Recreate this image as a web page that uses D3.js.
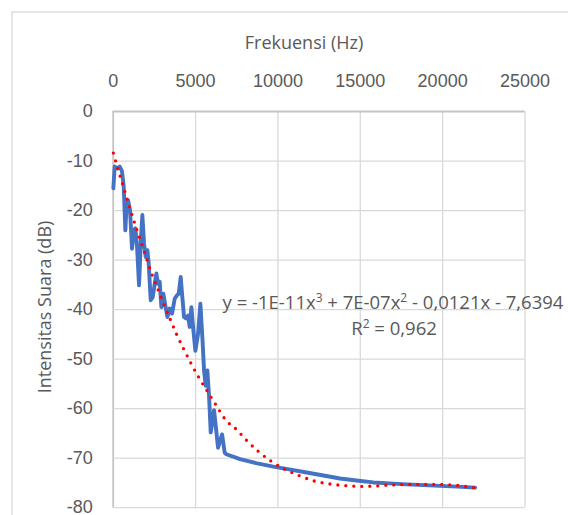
<!DOCTYPE html>
<html>
<head>
<meta charset="utf-8">
<script src="https://cdn.jsdelivr.net/npm/d3@7"></script>
<style>
  body { margin: 0; background: #fff; }
  svg { display: block; font-family: "Open Sans", "Liberation Sans", sans-serif; }
</style>
</head>
<body>
<div id="chart"></div>
<script>
// measured series (Hz, dB)
const freqHz = [40, 121, 283, 425, 567, 668, 769, 850, 931, 1052, 1174, 1275, 1376, 1478, 1599,
  1720, 1801, 1903, 2004, 2105, 2186, 2307, 2429, 2550, 2651, 2753, 2854, 2955, 3076, 3198,
  3319, 3461, 3603, 3765, 3906, 4007, 4129, 4210, 4331, 4453, 4574, 4675, 4777, 4898, 5020,
  5181, 5323, 5444, 5546, 5647, 5748, 5849, 5951, 6153, 6396, 6639, 6800, 6902,
  7730, 8700, 9750, 10800, 11780, 12800, 13800, 14800, 15820, 16800, 17850, 18900, 19870, 20900, 22000];
const intensityDb = [-15.6, -11.2, -11.6, -11.2, -12.2, -15.3, -24.1, -18.3, -18.0, -20.0, -27.8, -24.1, -23.7, -27.4, -35.2,
  -25.4, -21.0, -26.8, -29.5, -28.1, -30.8, -38.2, -37.6, -34.9, -32.8, -34.9, -34.5, -39.6, -36.9, -39.3,
  -41.6, -39.9, -40.9, -37.9, -37.2, -36.9, -33.5, -36.9, -41.6, -41.9, -41.3, -43.6, -39.6, -44.3, -48.4,
  -45.0, -38.9, -45.7, -52.4, -55.5, -52.4, -57.5, -64.9, -60.4, -68.0, -65.3, -69.0, -69.3,
  -70.3, -71.1, -71.8, -72.4, -73.0, -73.6, -74.2, -74.6, -75.0, -75.2, -75.4, -75.55, -75.7, -75.85, -76.05];

// polynomial trendline
const trendHz = [40, 324, 607, 890, 1174, 1478, 1801, 2105, 2429, 2793, 3157, 3522, 3906, 4331, 4777,
  5262, 5748, 6295, 6861, 7485, 8153, 8863, 9610, 10417, 11310, 12220, 13150, 14100, 15110, 16060,
  17030, 18030, 18960, 19950, 20880, 22000];
const trendDb = [-8.5, -11.8, -14.8, -18.0, -21.0, -24.1, -27.2, -30.3, -33.4, -36.4, -39.5, -42.3, -45.3, -48.2, -51.1,
  -54.0, -56.6, -59.5, -62.4, -64.2, -66.6, -68.8, -70.7, -72.3, -73.6, -74.7, -75.3, -75.65, -75.8, -75.7,
  -75.5, -75.4, -75.4, -75.4, -75.6, -76.1];

const xTicks = [0, 5000, 10000, 15000, 20000, 25000];
const yTicks = [0, -10, -20, -30, -40, -50, -60, -70, -80];

const xTitle = 'Frekuensi (Hz)';
const yTitle = 'Intensitas Suara (dB)';

const width = 568, height = 515;
const plot = { left: 112.7, right: 524.5, top: 111, bottom: 507.2 };
const textColor = '#595959';
const gridColor = '#d9d9d9';

const x = d3.scaleLinear().domain([0, 25000]).range([plot.left, plot.right]);
const y = d3.scaleLinear().domain([0, -80]).range([plot.top, plot.bottom]);

const svg = d3.select('#chart').append('svg')
  .attr('width', width)
  .attr('height', height);

// chart area border (runs off the right and bottom edge)
svg.append('rect')
  .attr('x', 12).attr('y', 12)
  .attr('width', 600).attr('height', 560)
  .attr('fill', '#fff')
  .attr('stroke', gridColor)
  .attr('stroke-width', 1.3);

// axes double as gridlines
const xAxis = svg.append('g')
  .attr('transform', `translate(0,${plot.top})`)
  .call(d3.axisTop(x).tickValues(xTicks).tickSize(-(plot.bottom - plot.top)).tickPadding(24).tickFormat(d3.format('d')));

const yAxis = svg.append('g')
  .attr('transform', `translate(${plot.left},0)`)
  .call(d3.axisLeft(y).tickValues(yTicks).tickSize(-(plot.right - plot.left)).tickPadding(20).tickFormat(d => d === 0 ? '0' : '-' + Math.abs(d)));

[xAxis, yAxis].forEach(g => {
  g.select('.domain').remove();
  g.selectAll('.tick line').attr('stroke', gridColor).attr('stroke-width', 1.3);
  g.selectAll('.tick text').attr('fill', textColor).style('font-size', '18px');
});

// axis lines a touch darker
xAxis.selectAll('.tick').filter(d => d === 0).select('line').attr('stroke', '#c4c4c4').attr('stroke-width', 1.8);
yAxis.selectAll('.tick').filter(d => d === 0).select('line').attr('stroke', '#c4c4c4').attr('stroke-width', 1.8);

// titles
svg.append('text')
  .attr('x', 304).attr('y', 49)
  .attr('text-anchor', 'middle')
  .attr('fill', textColor)
  .style('font-size', '18px')
  .text(xTitle);

svg.append('text')
  .attr('transform', 'translate(51,307) rotate(-90)')
  .attr('text-anchor', 'middle')
  .attr('fill', textColor)
  .style('font-size', '18px')
  .text(yTitle);

// measured line
const series = freqHz.map((f, i) => ({ f: f, db: intensityDb[i] }));
svg.append('path')
  .datum(series)
  .attr('fill', 'none')
  .attr('stroke', '#4472C4')
  .attr('stroke-width', 3.9)
  .attr('stroke-linejoin', 'round')
  .attr('stroke-linecap', 'round')
  .attr('d', d3.line().x(d => x(d.f)).y(d => y(d.db)));

// dotted trendline
const trend = trendHz.map((f, i) => ({ f: f, db: trendDb[i] }));
svg.append('path')
  .datum(trend)
  .attr('fill', 'none')
  .attr('stroke', '#ff0000')
  .attr('stroke-width', 3.3)
  .attr('stroke-linecap', 'round')
  .attr('stroke-dasharray', '0 8')
  .attr('d', d3.line().curve(d3.curveMonotoneX).x(d => x(d.f)).y(d => y(d.db)));

// trendline label
const label = svg.append('text')
  .attr('text-anchor', 'middle')
  .attr('fill', textColor)
  .style('font-size', '18.5px');

const eq = label.append('tspan').attr('x', 393).attr('y', 309);
eq.append('tspan').text('y = -1E-11x');
eq.append('tspan').attr('dy', -7).style('font-size', '12px').text('3');
eq.append('tspan').attr('dy', 7).text(' + 7E-07x');
eq.append('tspan').attr('dy', -7).style('font-size', '12px').text('2');
eq.append('tspan').attr('dy', 7).text(' - 0,0121x - 7,6394');

const r2 = label.append('tspan').attr('x', 394).attr('y', 335);
r2.append('tspan').text('R');
r2.append('tspan').attr('dy', -7).style('font-size', '12px').text('2');
r2.append('tspan').attr('dy', 7).text(' = 0,962');
</script>
</body>
</html>
